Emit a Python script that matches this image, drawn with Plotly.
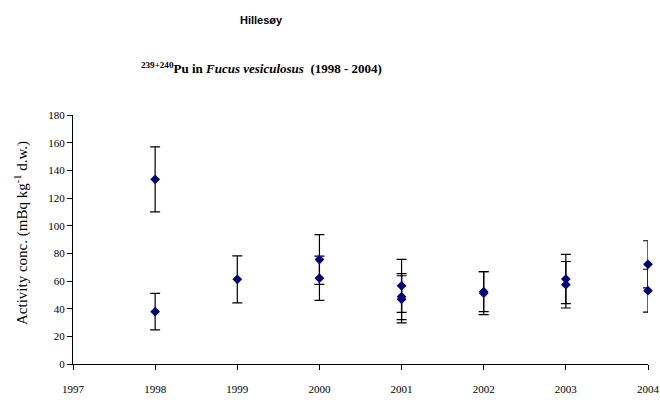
import plotly.graph_objects as go

years = [1998, 1998, 1999, 2000, 2000, 2001, 2001, 2001, 2002, 2002, 2003, 2003, 2004, 2004]
activity = [133.5, 37.8, 61.2, 75.5, 62.0, 56.5, 48.7, 46.8, 52.3, 51.2, 61.4, 57.3, 72.1, 53.0]
errors = [23.5, 13.2, 17.0, 18.0, 16.0, 19.2, 16.6, 17.0, 14.5, 15.5, 17.8, 16.8, 17.0, 15.5]

x_ticks = [1997, 1998, 1999, 2000, 2001, 2002, 2003, 2004]
y_ticks = [0, 20, 40, 60, 80, 100, 120, 140, 160, 180]

W, H = 660, 416
L, R, T, B = 73, 12, 115, 52

fig = go.Figure()
fig.add_trace(go.Scatter(
    x=years, y=activity, mode="markers",
    marker=dict(symbol="diamond", size=7.5, color="#000080"),
    error_y=dict(type="data", array=errors, visible=True, color="#000000",
                 thickness=1.2, width=5),
    cliponaxis=False, showlegend=False,
))

serif = "Liberation Serif"
fig.update_layout(
    width=W, height=H,
    margin=dict(l=L, r=R, t=T, b=B, autoexpand=False),
    paper_bgcolor="white", plot_bgcolor="white",
    font=dict(family=serif, size=11, color="#000"),
    xaxis=dict(range=[1997, 2004], tickvals=x_ticks, ticktext=[str(v) for v in x_ticks],
               automargin=False,
               showgrid=False, zeroline=False, showline=True, linecolor="#000", linewidth=1,
               ticks="outside", ticklen=5, tickcolor="#000", ticklabelstandoff=10,
               tickfont=dict(family=serif, size=11)),
    yaxis=dict(range=[0, 180], tickvals=y_ticks, automargin=False,
               showgrid=False, zeroline=False, showline=True, linecolor="#000", linewidth=1,
               ticks="outside", ticklen=5, tickcolor="#000",
               tickfont=dict(family=serif, size=11)),
)

cx = (261 - L) / (W - L - R)
fig.add_annotation(x=cx, y=1, xref="paper", yref="paper", yshift=95,
                   xanchor="center", yanchor="middle",
                   text="<b>Hillesøy</b>", showarrow=False,
                   font=dict(family="Liberation Sans", size=11, color="#000"))
fig.add_annotation(x=cx, y=1, xref="paper", yref="paper", yshift=47,
                   xanchor="center", yanchor="middle",
                   text="<b><sup>239+240</sup>Pu in <i>Fucus vesiculosus</i>  (1998 - 2004)</b>",
                   showarrow=False, font=dict(family=serif, size=13, color="#000"))
fig.add_annotation(x=(21 - L) / (W - L - R), y=(364 - 233) / (H - T - B), xref="paper", yref="paper",
                   xanchor="center", yanchor="middle", textangle=-90,
                   text="Activity conc. (mBq kg<sup>-1</sup> d.w.)", showarrow=False,
                   font=dict(family=serif, size=15, color="#000"))

fig.write_html("out.html", config={"displayModeBar": False},
               post_script="document.body.style.margin='0';")
